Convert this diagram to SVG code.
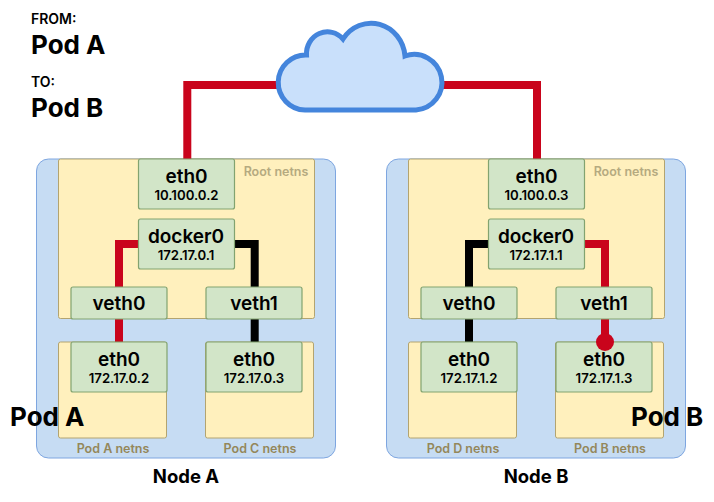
<svg xmlns="http://www.w3.org/2000/svg" width="714" height="502" viewBox="0 0 714 502">
  <style>
    text { font-family: Inter, "Liberation Sans", sans-serif; font-weight: 600; fill: #000; text-anchor: middle; }
    .node { fill: #c6dcf3; stroke: #7ea6e0; stroke-width: 1; }
    .ns { fill: #fff0bd; stroke: #b3a470; stroke-width: 1; }
    .if { fill: #d2e5c8; stroke: #82a370; stroke-width: 1.2; }
    .name { font-size: 19px; }
    .ip { font-size: 13.2px; }
    .nslabel { font-size: 12.5px; fill: #94875a; }
    .rootlabel { fill: #b5aa80; }
    .big { font-size: 26px; font-weight: 700; text-anchor: start; }
    .small { font-size: 14px; text-anchor: start; }
    .title { font-size: 18.5px; font-weight: 700; }
    .wire { fill: none; stroke-width: 8; }
    .red { stroke: #c9041c; }
    .black { stroke: #000; }
  </style>
  <g id="node-a"><rect class="node" x="36.5" y="159" width="299" height="299" rx="12"/></g>
  <g id="node-b"><rect class="node" x="386.5" y="159" width="299" height="299" rx="12"/></g>
  <g id="root-netns-a"><rect class="ns" x="58.5" y="159" width="256" height="159.500" rx="2"/><text class="nslabel rootlabel" x="276" y="176">Root netns</text></g>
  <g id="root-netns-b"><rect class="ns" x="408.5" y="159" width="256" height="159.500" rx="2"/><text class="nslabel rootlabel" x="626" y="176">Root netns</text></g>
  <g id="pod-a-netns"><rect class="ns" x="58.500" y="342" width="108" height="96" rx="2"/><text class="nslabel" x="113" y="453">Pod A netns</text></g>
  <g id="pod-c-netns"><rect class="ns" x="205.500" y="342" width="108" height="96" rx="2"/><text class="nslabel" x="260" y="453">Pod C netns</text></g>
  <g id="pod-d-netns"><rect class="ns" x="408.500" y="342" width="108" height="96" rx="2"/><text class="nslabel" x="463" y="453">Pod D netns</text></g>
  <g id="pod-b-netns"><rect class="ns" x="555.500" y="342" width="108" height="96" rx="2"/><text class="nslabel" x="610" y="453">Pod B netns</text></g>
  <g id="connectors">
    <path class="wire red" d="M187.300 160V85H280"/>
    <path class="wire red" d="M440 85H537V160"/>
    <path class="wire red" d="M140 244H119V342"/>
    <path class="wire black" d="M233 244H254.700V342"/>
    <path class="wire black" d="M490 244H469V342"/>
    <path class="wire red" d="M583 244H605V342"/>
  </g>
  <!-- Cloud outline: four lobes on a flat base -->
  <g id="cloud"><path d="M305 110A27.500 27.500 0 0 1 306.500 55A21 22 0 0 1 343 39A34 36 0 0 1 405 56A27.800 27.800 0 1 1 416 110Z" fill="#c9e0fb" stroke="#4485dc" stroke-width="5"/></g>
  <g id="eth0-root-a"><rect class="if" x="138.500" y="159" width="96" height="50" rx="2"/><text class="name" x="186.500" y="183">eth0</text><text class="ip" x="186.500" y="200">10.100.0.2</text></g>
  <g id="docker0-a"><rect class="if" x="138.500" y="219" width="96" height="50" rx="2"/><text class="name" x="186" y="243">docker0</text><text class="ip" x="186" y="260">172.17.0.1</text></g>
  <g id="veth0-a"><rect class="if" x="71" y="287" width="96" height="32" rx="2"/><text class="name" x="119" y="310">veth0</text></g>
  <g id="veth1-a"><rect class="if" x="206" y="287" width="96" height="32" rx="2"/><text class="name" x="254" y="310">veth1</text></g>
  <g id="eth0-pod-a"><rect class="if" x="71" y="342" width="96" height="50" rx="2"/><text class="name" x="119" y="366">eth0</text><text class="ip" x="119" y="383">172.17.0.2</text></g>
  <g id="eth0-pod-c"><rect class="if" x="206" y="342" width="96" height="50" rx="2"/><text class="name" x="254" y="366">eth0</text><text class="ip" x="254" y="383">172.17.0.3</text></g>
  <g id="eth0-root-b"><rect class="if" x="488.500" y="159" width="96" height="50" rx="2"/><text class="name" x="536.500" y="183">eth0</text><text class="ip" x="536.500" y="200">10.100.0.3</text></g>
  <g id="docker0-b"><rect class="if" x="488.500" y="219" width="96" height="50" rx="2"/><text class="name" x="536" y="243">docker0</text><text class="ip" x="536" y="260">172.17.1.1</text></g>
  <g id="veth0-b"><rect class="if" x="421" y="287" width="96" height="32" rx="2"/><text class="name" x="469" y="310">veth0</text></g>
  <g id="veth1-b"><rect class="if" x="556" y="287" width="96" height="32" rx="2"/><text class="name" x="604" y="310">veth1</text></g>
  <g id="eth0-pod-d"><rect class="if" x="421" y="342" width="96" height="50" rx="2"/><text class="name" x="469" y="366">eth0</text><text class="ip" x="469" y="383">172.17.1.2</text></g>
  <g id="eth0-pod-b"><rect class="if" x="556" y="342" width="96" height="50" rx="2"/><text class="name" x="604" y="366">eth0</text><text class="ip" x="604" y="383">172.17.1.3</text></g>
  <circle id="packet" cx="605" cy="342" r="9" fill="#c9041c"/>
  <g id="labels">
    <text class="small" x="31" y="24">FROM:</text>
    <text class="big" x="31" y="54">Pod A</text>
    <text class="small" x="31" y="87">TO:</text>
    <text class="big" x="31" y="117">Pod B</text>
    <text class="big" x="10" y="426">Pod A</text>
    <text class="big" x="631" y="426">Pod B</text>
    <text class="title" x="186" y="483">Node A</text>
    <text class="title" x="536" y="483">Node B</text>
  </g>
</svg>
